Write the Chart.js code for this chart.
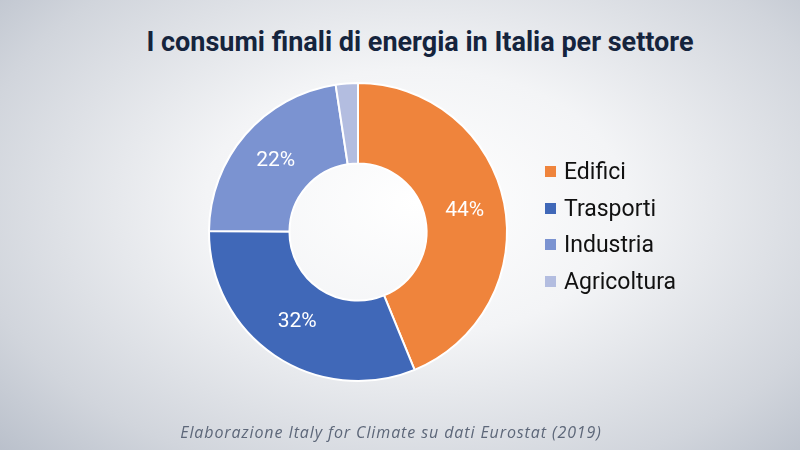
<!DOCTYPE html>
<html>
<head>
<meta charset="utf-8">
<script src="https://cdn.jsdelivr.net/npm/chart.js@4/dist/chart.umd.min.js"></script>
<style>
  html, body { margin: 0; padding: 0; }
  body {
    width: 800px; height: 450px; overflow: hidden; position: relative;
    background: radial-gradient(ellipse 75% 85% at 52% 45%, #ffffff 0%, #f3f4f6 35%, #d1d5dc 75%, #b4bbc7 100%);
  }
  #title {
    position: absolute; left: 0; width: 840px; top: 26px; text-align: center;
    font-family: Roboto, sans-serif; font-weight: 700; font-size: 27px; color: #15243d;
  }
  #legend {
    position: absolute; left: 545px; top: 158px;
    font-family: Roboto, sans-serif; font-size: 23px; color: #111;
  }
  #legend div { height: 36.5px; line-height: 28px; white-space: nowrap; }
  #legend span.box { display: inline-block; width: 11px; height: 11px; margin-right: 8px; vertical-align: 2px; }
  #footer {
    position: absolute; left: 0; width: 782px; top: 421px; text-align: center;
    font-family: "Open Sans", sans-serif; font-style: italic; font-size: 16px; color: #5d6779; letter-spacing: 0.9px;
  }
  canvas { position: absolute; left: 0; top: 0; }
</style>
</head>
<body>
<div id="title">I consumi finali di energia in Italia per settore</div>
<canvas id="chart" width="800" height="450"></canvas>
<div id="legend"></div>
<div id="footer">Elaborazione Italy for Climate su dati Eurostat (2019)</div>
<script>
var categories = ["Edifici", "Trasporti", "Industria", "Agricoltura"];
var values = [43.8, 31.3, 22.5, 2.4];
var shownLabels = ["44%", "32%", "22%", ""];
var colors = ["#EF843C", "#4068B8", "#7B93D1", "#B3BDE0"];

var sliceLabels = {
  id: "sliceLabels",
  afterDatasetsDraw: function(chart) {
    var ctx = chart.ctx;
    var meta = chart.getDatasetMeta(0);
    ctx.save();
    ctx.fillStyle = "#ffffff";
    ctx.font = "21px Roboto";
    ctx.textAlign = "center";
    ctx.textBaseline = "middle";
    meta.data.forEach(function(arc, i) {
      if (!shownLabels[i]) return;
      var p = arc.tooltipPosition();
      ctx.fillText(shownLabels[i], p.x, p.y);
    });
    ctx.restore();
  }
};

var chart = new Chart(document.getElementById("chart").getContext("2d"), {
  type: "doughnut",
  data: {
    labels: categories,
    datasets: [{
      data: values,
      backgroundColor: colors,
      borderColor: "#ffffff",
      borderWidth: 2
    }]
  },
  options: {
    responsive: false,
    animation: false,
    cutout: "46%",
    layout: { padding: { left: 208, right: 292, top: 82, bottom: 68 } },
    plugins: {
      legend: { display: false },
      tooltip: { enabled: false }
    }
  },
  plugins: [sliceLabels]
});

var legend = document.getElementById("legend");
categories.forEach(function(name, i) {
  var row = document.createElement("div");
  row.innerHTML = '<span class="box" style="background:' + colors[i] + '"></span>' + name;
  legend.appendChild(row);
});
</script>
</body>
</html>
